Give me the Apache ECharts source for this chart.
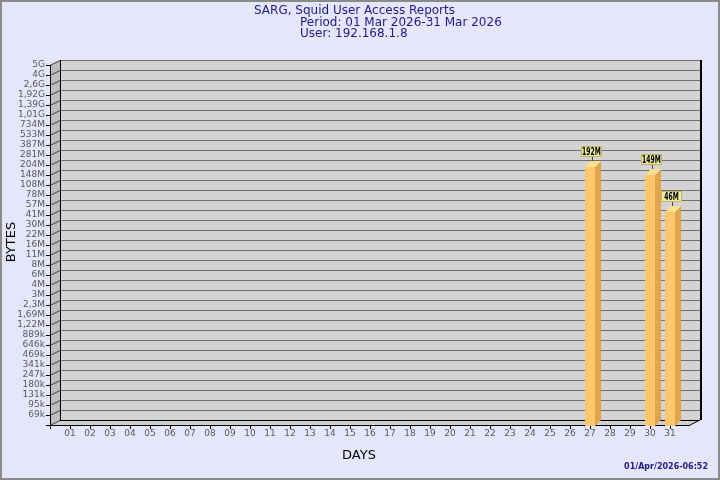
<!DOCTYPE html>
<html>
<head>
<meta charset="utf-8">
<script src="https://cdn.jsdelivr.net/npm/echarts@6/dist/echarts.min.js"></script>
<style>
  html, body { margin: 0; padding: 0; background: #e6e6fa; }
  #chart { width: 720px; height: 480px; }
</style>
</head>
<body>
<div id="chart"></div>
<script>
// ---- data ----
const titleLines = ['SARG, Squid User Access Reports', 'Period: 01 Mar 2026-31 Mar 2026', 'User: 192.168.1.8'];
const days = ['01','02','03','04','05','06','07','08','09','10','11','12','13','14','15','16','17','18','19','20','21','22','23','24','25','26','27','28','29','30','31'];
const dayBytes = [0,0,0,0,0,0,0,0,0,0,0,0,0,0,0,0,0,0,0,0,0,0,0,0,0,0,192e6,0,0,149e6,46e6];
const yTickLabels = ['69k','95k','131k','180k','247k','341k','469k','646k','889k','1,22M','1,69M','2,3M','3M','4M','6M','8M','11M','16M','22M','30M','41M','57M','78M','108M','148M','204M','281M','387M','533M','734M','1,01G','1,39G','1,92G','2,6G','4G','5G'];
const xName = 'DAYS';
const yName = 'BYTES';
const stamp = '01/Apr/2026-06:52';

// ---- scale helpers (tick labels are on a non-linear, roughly logarithmic ladder) ----
const mult = { k: 1e3, M: 1e6, G: 1e9 };
const yTickValues = yTickLabels.map(s => parseFloat(s.slice(0, -1).replace(',', '.')) * mult[s.slice(-1)]);
function toAxis(v) {
  if (v <= 0) return 0;
  const t = yTickValues;
  if (v < t[0]) return v / t[0];
  for (let i = 0; i < t.length - 1; i++) {
    if (v < t[i + 1]) return i + 1 + Math.log(v / t[i]) / Math.log(t[i + 1] / t[i]);
  }
  return t.length;
}
function fmtBytes(v) {
  if (v >= 1e9) return (Math.round(v / 1e7) / 100).toString().replace('.', ',') + 'G';
  if (v >= 1e6) return Math.round(v / 1e6) + 'M';
  return Math.round(v / 1e3) + 'k';
}
const barData = [];
days.forEach((d, i) => { if (dayBytes[i] > 0) barData.push([i + 1, toAxis(dayBytes[i]), dayBytes[i]]); });

const NY = yTickLabels.length;   // 36
const NX = days.length + 1;      // 32
const DX = 10, DY = -5;          // wall depth
const BDX = 6, BDY = -6;         // bar depth
const crisp = v => Math.round(v) + 0.5;
const NAVY = '#1c1c8c';

const chart = echarts.init(document.getElementById('chart'), null, { renderer: 'canvas' });

function line(x1, y1, x2, y2, color, w) {
  return { type: 'line', shape: { x1, y1, x2, y2 }, style: { stroke: color, lineWidth: w || 1 }, silent: true };
}

const option = {
  backgroundColor: '#e6e6fa',
  animation: false,
  grid: { left: 50, top: 65, width: 640, height: 360, containLabel: false },
  xAxis: {
    type: 'value', min: 0, max: NX, interval: 1,
    axisLine: { show: false },
    splitLine: { show: false },
    axisTick: { show: true, length: 4, lineStyle: { color: '#000' }, customValues: days.map((d, i) => i).concat([days.length]) },
    axisLabel: {
      margin: 4, color: '#5a5a5a', fontFamily: 'DejaVu Sans', fontSize: 9,
      customValues: days.map((d, i) => i + 1),
      formatter: v => (v >= 1 && v <= days.length) ? days[v - 1] : ''
    }
  },
  yAxis: {
    type: 'value', min: 0, max: NY, interval: 1,
    axisLine: { show: false },
    splitLine: { show: false },
    axisTick: { show: true, length: 4, lineStyle: { color: '#000' } },
    axisLabel: {
      margin: 5, color: '#5a5a5a', fontFamily: 'DejaVu Sans', fontSize: 9,
      formatter: v => (v >= 1 && v <= NY) ? yTickLabels[v - 1] : ''
    }
  },
  graphic: [
    { type: 'rect', shape: { x: 1, y: 1, width: 718, height: 478 }, style: { fill: 'none', stroke: '#8a8a8a', lineWidth: 2 }, z: 100, silent: true },
    { type: 'text', x: 254, y: 11, style: { text: titleLines[0], fill: NAVY, font: '12px "DejaVu Sans"', textVerticalAlign: 'middle' } },
    { type: 'text', x: 300, y: 22.5, style: { text: titleLines[1], fill: NAVY, font: '12px "DejaVu Sans"', textVerticalAlign: 'middle' } },
    { type: 'text', x: 300, y: 33.5, style: { text: titleLines[2], fill: NAVY, font: '12px "DejaVu Sans"', textVerticalAlign: 'middle' } },
    { type: 'text', x: 359, y: 455.5, style: { text: xName, fill: '#000', font: '13px "DejaVu Sans"', textAlign: 'center', textVerticalAlign: 'middle' } },
    { type: 'text', x: 11.5, y: 242, rotation: Math.PI / 2, style: { text: yName, fill: '#000', font: '13px "DejaVu Sans"', textAlign: 'center', textVerticalAlign: 'middle' } },
    { type: 'text', x: 708, y: 466.5, style: { text: stamp, fill: NAVY, font: 'bold 8px "DejaVu Sans"', textAlign: 'right', textVerticalAlign: 'middle' } }
  ],
  series: [
    {
      type: 'custom', coordinateSystem: 'cartesian2d', z: 1, silent: true,
      data: [[0, 0]],
      renderItem: function (params, api) {
        const o = api.coord([0, 0]);
        const e = api.coord([NX, NY]);
        const ox = Math.round(o[0]), oy = Math.round(o[1]);
        const ex = Math.round(e[0]), ey = Math.round(e[1]);
        const ch = [];
        ch.push({ type: 'rect', shape: { x: ox + DX, y: ey + DY, width: ex - ox, height: oy - ey }, style: { fill: '#d3d3d3' } });
        ch.push({ type: 'polygon', shape: { points: [[ox, oy], [ox, ey], [ox + DX, ey + DY], [ox + DX, oy + DY]] }, style: { fill: '#bebebe' } });
        ch.push({ type: 'polygon', shape: { points: [[ox, oy], [ex, oy], [ex + DX, oy + DY], [ox + DX, oy + DY]] }, style: { fill: '#d0d0d0' } });
        for (let i = 0; i <= NY; i++) {
          const y = Math.round(api.coord([0, i])[1]);
          if (i >= 1) ch.push(line(ox + DX, crisp(y + DY), ex + DX, crisp(y + DY), '#707070'));
          ch.push(line(ox, crisp(y), ox + DX, crisp(y + DY), '#3c3c3c'));
        }
        ch.push(line(crisp(ox + DX), ey + DY, crisp(ox + DX), oy + DY, '#000'));
        ch.push(line(ox + DX, crisp(oy + DY), ex + DX, crisp(oy + DY), '#000'));
        ch.push(line(ex + DX + 1, ey + DY, ex + DX + 1, oy + DY, '#000', 2));
        ch.push(line(ex + DX, oy + DY, ex, oy, '#000'));
        ch.push(line(crisp(ox), ey, crisp(ox), oy + 1, '#000'));
        ch.push(line(ox, crisp(oy), ex, crisp(oy), '#000'));
        return { type: 'group', children: ch };
      }
    },
    {
      type: 'custom', coordinateSystem: 'cartesian2d', z: 3, silent: true,
      encode: { x: 0, y: 1 },
      data: barData,
      renderItem: function (params, api) {
        const day = api.value(0), pos = api.value(1), raw = api.value(2);
        const top = api.coord([day, pos]);
        const base = api.coord([day, 0]);
        const hw = api.size([0.5, 0])[0] / 2;
        const x0 = Math.round(top[0] - hw), x1 = Math.round(top[0] + hw);
        const yt = Math.round(top[1]), yb = Math.round(base[1]) + 1;
        const cx = Math.round(top[0]);
        const lbTop = yt - 21;
        return {
          type: 'group',
          children: [
            { type: 'rect', shape: { x: x0, y: yt, width: x1 - x0, height: yb - yt }, style: { fill: '#ffc66b' } },
            { type: 'polygon', shape: { points: [[x1, yt], [x1 + BDX, yt + BDY], [x1 + BDX, yb + BDY], [x1, yb]] }, style: { fill: '#e0a44c' } },
            { type: 'polygon', shape: { points: [[x0, yt], [x1, yt], [x1 + BDX, yt + BDY], [x0 + BDX, yt + BDY]] }, style: { fill: '#ffe08f' } },
            line(cx + 2.5, yt + BDY, cx + 2.5, lbTop + 10, '#4a4a4a'),
            { type: 'rect', shape: { x: cx - 8.5, y: lbTop + 0.5, width: 20, height: 10 }, style: { fill: '#eeeba4', stroke: '#c2b55e', lineWidth: 1 } },
            { type: 'text', x: cx + 1.5, y: lbTop + 6, scaleX: 0.68, style: { text: fmtBytes(raw), fill: '#000', font: 'bold 10px "DejaVu Sans Condensed", "DejaVu Sans"', textAlign: 'center', textVerticalAlign: 'middle' } }
          ]
        };
      }
    }
  ]
};
chart.setOption(option);
</script>
</body>
</html>
